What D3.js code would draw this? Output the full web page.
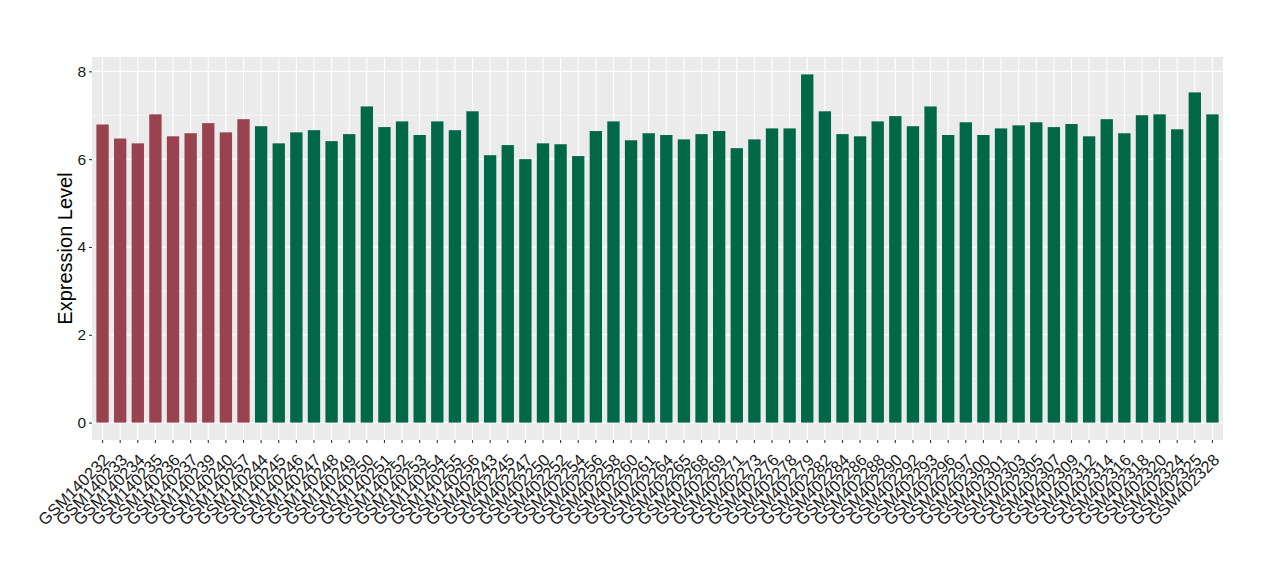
<!DOCTYPE html>
<html>
<head>
<meta charset="utf-8">
<script src="https://cdn.jsdelivr.net/npm/d3@7"></script>
<style>
	body { margin: 0; background: #FFFFFF; }
	text { font-family: "Liberation Sans", Arial, sans-serif; }
</style>
</head>
<body>
<div id="chart"></div>
<script>

// sample names, in plotting order
var vsSamples = ["GSM140232", "GSM140233", "GSM140234", "GSM140235", "GSM140236", "GSM140237", "GSM140239", "GSM140240", "GSM140257",
				 "GSM140244", "GSM140245", "GSM140246", "GSM140247", "GSM140248", "GSM140249", "GSM140250", "GSM140251", "GSM140252",
				 "GSM140253", "GSM140254", "GSM140255", "GSM140256",
				 "GSM402243", "GSM402245", "GSM402247", "GSM402250", "GSM402252", "GSM402254", "GSM402256", "GSM402258", "GSM402260",
				 "GSM402261", "GSM402264", "GSM402265", "GSM402268", "GSM402269", "GSM402271", "GSM402273", "GSM402276", "GSM402278",
				 "GSM402279", "GSM402282", "GSM402284", "GSM402286", "GSM402288", "GSM402290", "GSM402292", "GSM402293", "GSM402296",
				 "GSM402297", "GSM402300", "GSM402301", "GSM402303", "GSM402305", "GSM402307", "GSM402309", "GSM402312", "GSM402314",
				 "GSM402316", "GSM402318", "GSM402320", "GSM402324", "GSM402325", "GSM402328"];

var vfValues = [6.79, 6.47, 6.36, 7.02, 6.52, 6.59, 6.82, 6.61, 6.91,
				6.75, 6.36, 6.61, 6.66, 6.41, 6.57, 7.20, 6.73, 6.86,
				6.55, 6.86, 6.66, 7.09,
				6.09, 6.32, 6.00, 6.36, 6.34, 6.07, 6.64, 6.86, 6.43,
				6.59, 6.55, 6.45, 6.57, 6.64, 6.25, 6.45, 6.70, 6.70,
				7.93, 7.09, 6.57, 6.52, 6.86, 6.98, 6.75, 7.20, 6.55,
				6.84, 6.55, 6.70, 6.77, 6.84, 6.73, 6.80, 6.52, 6.91,
				6.59, 7.00, 7.02, 6.68, 7.52, 7.02];

// first 9 samples are group A, the rest group B
var vnGroups = [0, 0, 0, 0, 0, 0, 0, 0, 0].concat(d3.range(55).map(function() { return 1; }));

var vsGroupColors = ["#9A4350", "#006846"];

var vnYTicks = [0, 2, 4, 6, 8];
var vnYMinorTicks = [1, 3, 5, 7];

var g_nW = 1280;
var g_nH = 580;

var g_nLeft = 92;
var g_nRight = 1223;
var g_nTop = 57;
var g_nBottom = 440;

var tjData = vsSamples.map(function(s, i) { return { name: s, value: vfValues[i], group: vnGroups[i] }; });

var svg = d3.select("#chart").append("svg")
			.attr("width", g_nW)
			.attr("height", g_nH);

// ggplot-like expansion: 5% on continuous, 0.6 units on discrete
var fMax = d3.max(vfValues);
var scaleY = d3.scaleLinear()
				.domain([-fMax * 0.05, fMax * 1.05])
				.range([g_nBottom, g_nTop]);

var nUnit = (g_nRight - g_nLeft) / (vsSamples.length - 1 + 1.2);
var scaleX = d3.scaleBand()
				.domain(vsSamples)
				.range([g_nLeft + 0.6 * nUnit - nUnit / 2, g_nRight - 0.6 * nUnit + nUnit / 2])
				.paddingInner(0.3)
				.paddingOuter(0.15);

var funcCenter = function(s) { return scaleX(s) + scaleX.bandwidth() / 2; };

// panel
svg.append("rect")
	.attr("x", g_nLeft)
	.attr("y", g_nTop)
	.attr("width", g_nRight - g_nLeft)
	.attr("height", g_nBottom - g_nTop)
	.attr("fill", "#EBEBEB");

svg.selectAll("line.yminor")
	.data(vnYMinorTicks)
	.enter()
	.append("line")
		.attr("class", "yminor")
		.attr("x1", g_nLeft).attr("x2", g_nRight)
		.attr("y1", scaleY).attr("y2", scaleY)
		.attr("stroke", "#FFFFFF")
		.attr("stroke-width", 0.55);

svg.selectAll("line.ymajor")
	.data(vnYTicks)
	.enter()
	.append("line")
		.attr("class", "ymajor")
		.attr("x1", g_nLeft).attr("x2", g_nRight)
		.attr("y1", scaleY).attr("y2", scaleY)
		.attr("stroke", "#FFFFFF")
		.attr("stroke-width", 1.1);

svg.selectAll("line.xmajor")
	.data(vsSamples)
	.enter()
	.append("line")
		.attr("class", "xmajor")
		.attr("x1", funcCenter).attr("x2", funcCenter)
		.attr("y1", g_nTop).attr("y2", g_nBottom)
		.attr("stroke", "#FFFFFF")
		.attr("stroke-width", 1.1);

// bars
svg.selectAll("rect.bar")
	.data(tjData)
	.enter()
	.append("rect")
		.attr("class", "bar")
		.attr("x", function(d) { return scaleX(d.name); })
		.attr("width", scaleX.bandwidth())
		.attr("y", function(d) { return scaleY(d.value); })
		.attr("height", function(d) { return scaleY(0) - scaleY(d.value); })
		.attr("fill", function(d) { return vsGroupColors[d.group]; });

// y axis
var axisY = d3.axisLeft(scaleY).tickValues(vnYTicks).tickSize(3).tickPadding(3);
var gY = svg.append("g")
			.attr("transform", "translate(" + g_nLeft + ",0)")
			.call(axisY);
gY.select(".domain").remove();
gY.selectAll(".tick line").attr("stroke", "#333333").attr("stroke-width", 1.1);
gY.selectAll(".tick text")
	.attr("font-family", "Liberation Sans, Arial, sans-serif")
	.attr("font-size", 15.5)
	.attr("fill", "#1A1A1A");

// x axis
var axisX = d3.axisBottom(scaleX).tickSize(3).tickPadding(2);
var gX = svg.append("g")
			.attr("transform", "translate(0," + g_nBottom + ")")
			.call(axisX);
gX.select(".domain").remove();
gX.selectAll(".tick line").attr("stroke", "#333333").attr("stroke-width", 1.1);
gX.selectAll(".tick text")
	.attr("font-family", "Liberation Sans, Arial, sans-serif")
	.attr("font-size", 16.5)
	.attr("fill", "#1A1A1A")
	.attr("text-anchor", "end")
	.attr("dy", 0)
	.attr("y", 0)
	.attr("transform", "translate(8,21) rotate(-45)");

// y title
svg.append("text")
	.attr("transform", "translate(72," + ((g_nTop + g_nBottom) / 2) + ") rotate(-90)")
	.attr("text-anchor", "middle")
	.attr("font-size", 20)
	.attr("fill", "#000000")
	.text("Expression Level");

</script>
</body>
</html>
